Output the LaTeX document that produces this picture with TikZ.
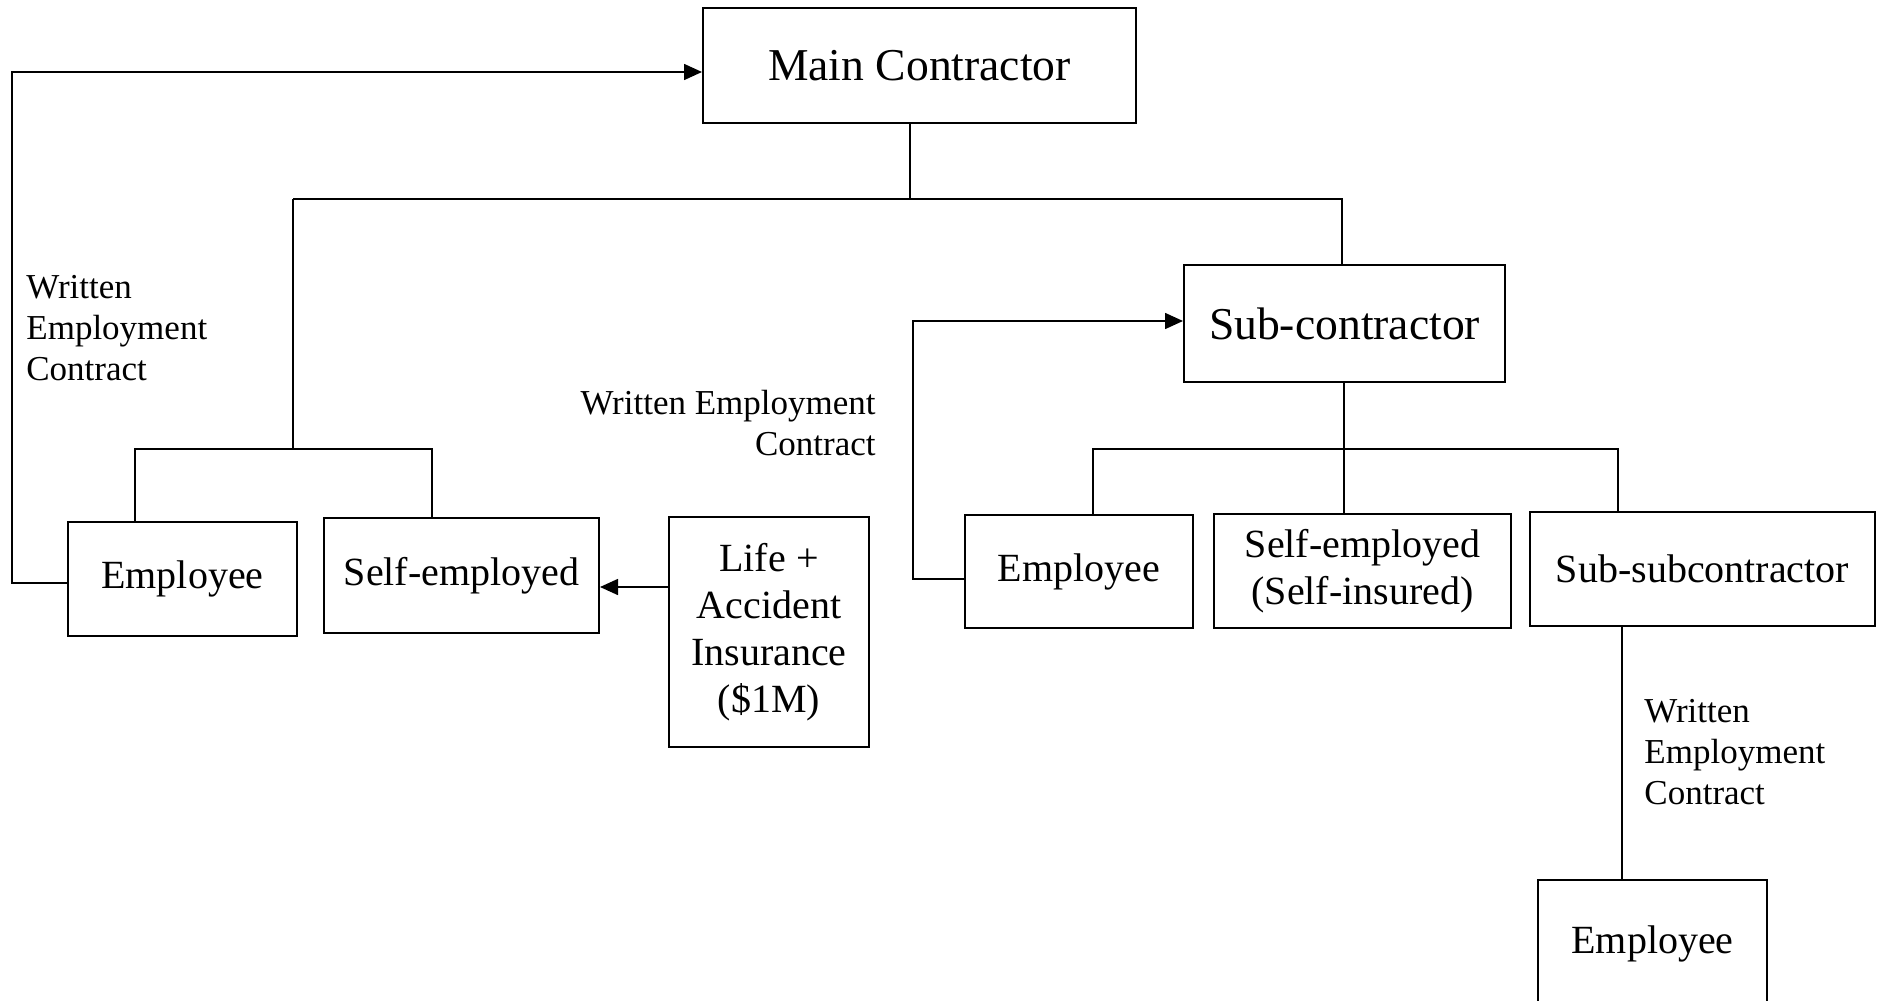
\documentclass[tikz,border=0pt]{standalone}
\usepackage{fontspec}
\setmainfont{Liberation Serif}
\usetikzlibrary{arrows.meta}
\begin{document}
\begin{tikzpicture}[x=0.5pt,y=-0.5pt,
  box/.style={draw,line width=1pt,rectangle,inner sep=0pt,align=center,font=\fontsize{20}{23.5}\selectfont},
  bigbox/.style={box,font=\fontsize{22.8}{27}\selectfont},
  conn/.style={line width=0.8pt},
  arr/.style={conn,-{Triangle[length=9pt,width=8pt]}},
  lbl/.style={inner sep=0pt,font=\fontsize{17.5}{20.5}\selectfont}]
\useasboundingbox[fill=white] (0,0) rectangle (1877,1000);
% boxes
\node[bigbox,minimum width=216.5pt,minimum height=57.5pt] (main) at (919.5,65.5) {Main Contractor};
\node[box,minimum width=114.5pt,minimum height=57pt] (emp1) at (182.5,579) {\raisebox{-2pt}{Employee}};
\node[box,minimum width=137.5pt,minimum height=57.5pt] (self1) at (461.5,575.5) {\raisebox{-1.5pt}{Self-employed}};
\node[box,minimum width=100pt,minimum height=115pt] (life) at (769,632) {Life +\\Accident\\Insurance\\(\$1M)};
\node[bigbox,minimum width=160.5pt,minimum height=58.5pt] (sub) at (1344.5,323.5) {Sub-contractor};
\node[box,minimum width=114pt,minimum height=56.5pt] (emp2) at (1079,571.5) {Employee};
\node[box,minimum width=148.5pt,minimum height=57pt] (self2) at (1362.5,571) {Self-employed\\(Self-insured)};
\node[box,minimum width=172.5pt,minimum height=57pt] (subsub) at (1702.5,569) {Sub-subcontractor};
\node[box,minimum width=114.5pt,minimum height=65pt] (emp3) at (1652.5,945) {\raisebox{5pt}{Employee}};
% labels
\node[lbl,anchor=west,align=left] (l1) at (26,328) {Written\\Employment\\Contract};
\node[lbl,anchor=east,align=right] (l2) at (876,423.5) {Written Employment\\Contract};
\node[lbl,anchor=west,align=left] (l3) at (1644,752) {Written\\Employment\\Contract};
% tree coordinates
\coordinate (b1) at (910,199);
\coordinate (bl) at (293,199);
\coordinate (br) at (1342,199);
\coordinate (b2) at (293,449);
\coordinate (b2l) at (135,449);
\coordinate (b2r) at (432,449);
\coordinate (s1) at (1344,449);
\coordinate (s1l) at (1093,449);
\coordinate (s1r) at (1618,449);
\coordinate (t1) at (1622,700);
\coordinate (c1) at (12,72);
\coordinate (c1b) at (12,583);
\coordinate (c2) at (700,587);
\coordinate (c3) at (913,321);
\coordinate (c3b) at (913,579);
% connectors
\draw[conn] (main.south -| b1) -- (b1);
\draw[conn] (bl) -- (br) -- (br |- sub.north);
\draw[conn] (bl) -- (b2);
\draw[conn] (b2l |- emp1.north) -- (b2l) -- (b2r) -- (b2r |- self1.north);
\draw[conn] (sub.south -| s1) -- (s1);
\draw[conn] (s1l |- emp2.north) -- (s1l) -- (s1r) -- (s1r |- subsub.north);
\draw[conn] (s1) -- (s1 |- self2.north);
\draw[conn] (subsub.south -| t1) -- (emp3.north -| t1);
\draw[arr] (emp1.west |- c1b) -- (c1b) -- (c1) -- (c1 -| main.west);
\draw[arr] (life.west |- c2) -- (self1.east |- c2);
\draw[arr] (emp2.west |- c3b) -- (c3b) -- (c3) -- (c3 -| sub.west);
\end{tikzpicture}
\end{document}
